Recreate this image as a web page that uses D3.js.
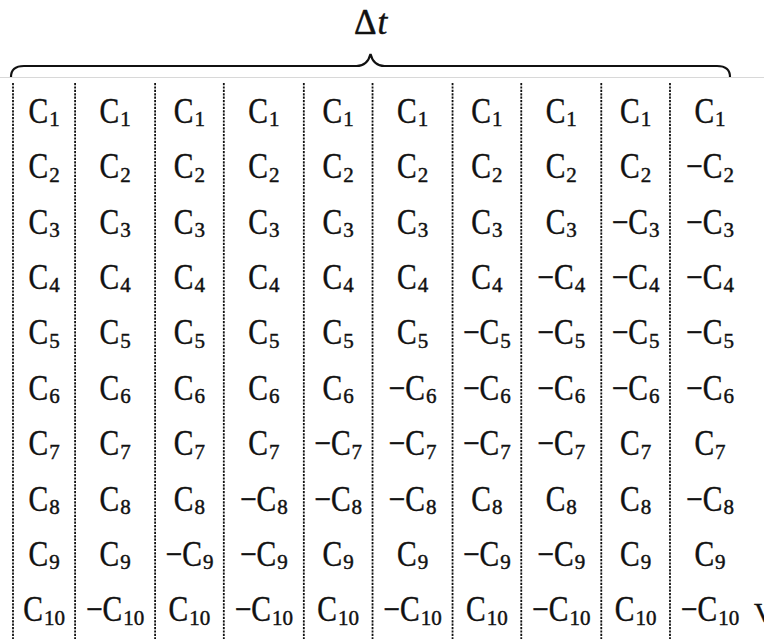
<!DOCTYPE html>
<html>
<head>
<meta charset="utf-8">
<script src="https://cdn.jsdelivr.net/npm/d3@7"></script>
<style>
  html, body { margin: 0; padding: 0; background: #fff; }
  svg { display: block; }
  text { font-family: "Liberation Serif", "DejaVu Serif", serif; fill: #111; stroke: #111; stroke-width: 0.45; }
</style>
</head>
<body>
<svg id="chart"></svg>
<script>
const W = 764, H = 639;

// rows C1..C10, top to bottom
const rowIdx = [1, 2, 3, 4, 5, 6, 7, 8, 9, 10];
// sign of each row, one string per column (left to right)
const colSigns = [
  "++++++++++",
  "+++++++++-",
  "++++++++-+",
  "+++++++---",
  "++++++--++",
  "+++++---+-",
  "++++---+-+",
  "+++----+--",
  "++----++++",
  "+-----+-+-"
];
const braceLabel = ["\u0394", "t"];

const fontMain = 36, fontSub = 21, squeeze = 0.82, pad = 16, subDrop = 3.5;

const svg = d3.select("#chart").attr("width", W).attr("height", H);

const y = d3.scalePoint().domain(rowIdx).range([122.7, 621.3]);

const cells = colSigns.flatMap((s, j) =>
  rowIdx.map((r, i) => ({col: j, row: r, neg: s[i] === "-"})));

/*============= cell texts ===============*/
const cellG = svg.append("g").selectAll("g")
  .data(cells)
  .join("g");
const mains = cellG.append("text")
  .attr("font-size", fontMain)
  .text(d => (d.neg ? "\u2212" : "") + "C");
const subs = cellG.append("text")
  .attr("font-size", fontSub)
  .text(d => d.row);

mains.each(function(d) { d.mw = this.getComputedTextLength() * squeeze; });
subs.each(function(d) { d.sw = this.getComputedTextLength(); });
cells.forEach(d => d.w = d.mw + d.sw + 1);

// column widths follow the longest entry, as in a fitted table
const widths = colSigns.map((_, j) => d3.max(cells.filter(d => d.col === j), d => d.w));
const edges = [0];
widths.forEach(w => edges.push(edges[edges.length - 1] + w + pad));
const x = d3.scaleLinear().domain([0, edges[edges.length - 1]]).range([13, 750]);

cellG.attr("transform", d => {
  const cx = (x(edges[d.col]) + x(edges[d.col + 1])) / 2;
  return `translate(${cx - d.w / 2},${y(d.row)})`;
});
mains.attr("transform", `scale(${squeeze},1)`);
subs.attr("x", d => d.mw + 1).attr("y", subDrop);

/*============= dotted column rules ===============*/
svg.append("g").selectAll("line")
  .data(d3.range(colSigns.length))
  .join("line")
  .attr("x1", j => x(edges[j])).attr("x2", j => x(edges[j]))
  .attr("y1", 83).attr("y2", H)
  .attr("stroke", "#111")
  .attr("stroke-width", 1.8)
  .attr("stroke-dasharray", "2.2,1.2");

/*============= header ===============*/
svg.append("line")
  .attr("x1", 0).attr("x2", W).attr("y1", 77.5).attr("y2", 77.5)
  .attr("stroke", "#d8d8d8").attr("stroke-width", 1);

const bx0 = x.range()[0] - 2, bx1 = x.range()[1] - 20, bmid = (bx0 + bx1) / 2;
const by = 66, byEnd = 77, byTip = 54;
const brace = d3.path();
brace.moveTo(bx0, byEnd);
brace.quadraticCurveTo(bx0, by, bx0 + 13, by);
brace.lineTo(bmid - 14, by);
brace.quadraticCurveTo(bmid - 3, by, bmid, byTip);
brace.quadraticCurveTo(bmid + 3, by, bmid + 14, by);
brace.lineTo(bx1 - 13, by);
brace.quadraticCurveTo(bx1, by, bx1, byEnd);
svg.append("path")
  .attr("d", brace.toString())
  .attr("fill", "none")
  .attr("stroke", "#111")
  .attr("stroke-width", 2.2);

const label = svg.append("text")
  .attr("x", bmid).attr("y", 34)
  .attr("text-anchor", "middle")
  .attr("font-size", 35)
  .attr("stroke-width", 0.3);
label.append("tspan").text(braceLabel[0]);
label.append("tspan").attr("font-style", "italic").attr("dx", 1).text(braceLabel[1]);

// cut-off glyph at the right edge
svg.append("text")
  .attr("x", 754).attr("y", 622)
  .attr("font-size", 28)
  .attr("fill", "#333")
  .attr("stroke-width", 0)
  .text("V");
</script>
</body>
</html>
